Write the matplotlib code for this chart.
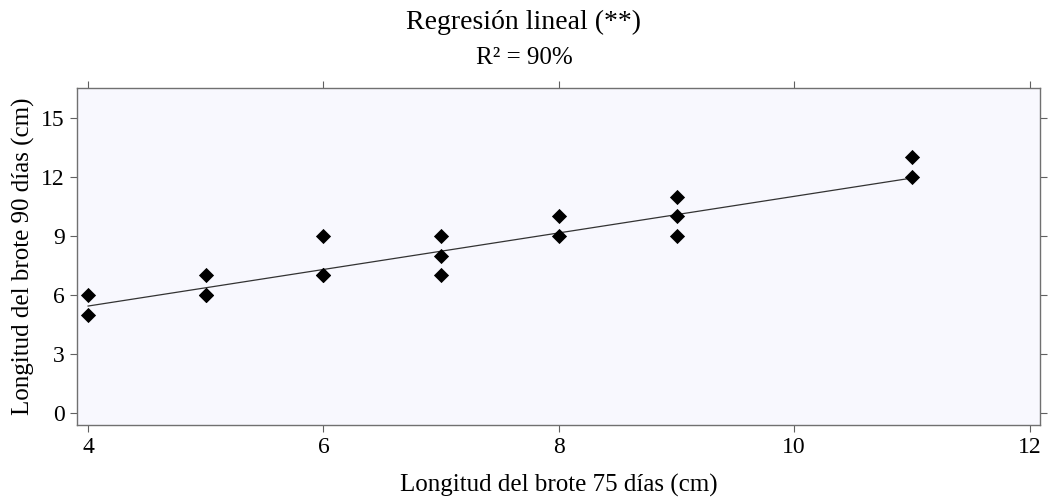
import numpy as np
import matplotlib
matplotlib.use("Agg")
import matplotlib.pyplot as plt

# Data (duplicates included where markers look overlapped)
x_vals = [4, 4, 5, 5, 5, 6, 6, 6, 7, 7, 7, 8, 8, 9, 9, 9, 11, 11]
y_vals = [6, 5, 7, 6, 6, 9, 7, 7, 9, 8, 7, 10, 9, 11, 10, 9, 13, 12]
fit_slope = 0.93
fit_intercept = 1.72
x_ticks = [4, 6, 8, 10, 12]
y_ticks = [0, 3, 6, 9, 12, 15]

plt.rcParams['font.family'] = ['Liberation Serif', 'DejaVu Serif']

fig = plt.figure(figsize=(10.48, 4.97), dpi=100)
ax = fig.add_axes([0.0735, 0.1449, 0.919, 0.678])
ax.set_facecolor('#F8F8FE')

ax.scatter(x_vals, y_vals, marker='D', s=60, color='black', zorder=3, linewidths=0)
xl = np.array([min(x_vals), max(x_vals)])
ax.plot(xl, fit_intercept + fit_slope * xl, color='#333333', lw=0.9, zorder=2)

ax.set_xlim(3.906, 12.09)
ax.set_ylim(-0.61, 16.53)
ax.set_xticks(x_ticks)
ax.set_yticks(y_ticks)
ax.tick_params(axis='both', direction='out', length=5, width=0.8, color='#606060',
               labelsize=17, top=True, right=True, labeltop=False, labelright=False, pad=4)
for s in ax.spines.values():
    s.set_color('#707070')
    s.set_linewidth(1.0)

ax.set_xlabel('Longitud del brote 75 días (cm)', fontsize=18, labelpad=11)
ax.set_ylabel('Longitud del brote 90 días (cm)', fontsize=18, labelpad=4)

fig.text(0.5, 1 - 22 / 497, 'Regresión lineal (**)', ha='center', va='center', fontsize=20)
fig.text(0.5, 1 - 58 / 497, 'R² = 90%', ha='center', va='center', fontsize=18)

fig.savefig('out.png', dpi=100)
